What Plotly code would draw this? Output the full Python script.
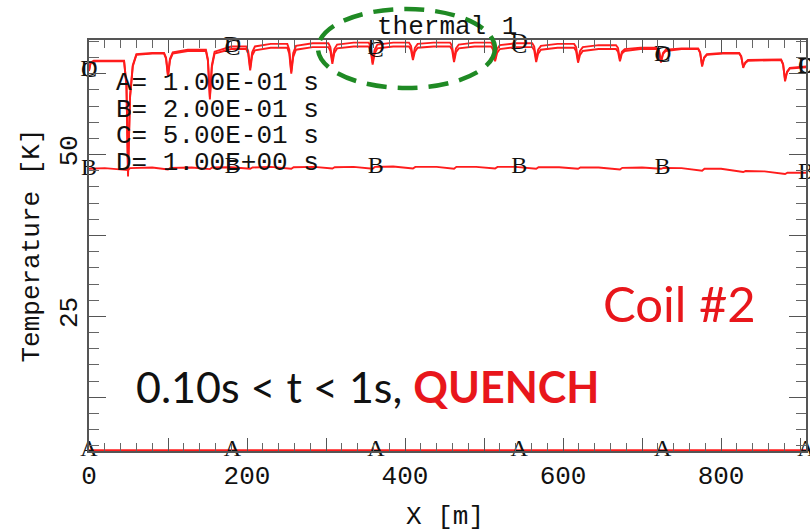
import numpy as np
import plotly.graph_objects as go

# ---------------- data ----------------
X_MAX = 907.5

# curve A: t = 0.1 s (flat, at initial temperature)
a_x = [0.0, 907.5]
a_T = [4.3, 4.3]

# curve B: t = 0.2 s
b_x = [0, 20, 49.4, 52, 80, 100, 103, 130, 153, 156,
       180, 204, 207, 230, 256, 259, 285, 308, 311, 335,
       359, 362, 385, 410, 413, 440, 462, 465, 490, 514,
       517, 540, 566, 569, 595, 619, 622, 645, 672, 675,
       700, 724, 727, 750, 776, 779, 800, 828, 831, 855,
       881, 884, 907.5]
b_T = [47.8, 47.9, 47.6, 47.9, 48.0, 47.7, 47.95, 48.0, 47.75, 48.0,
       48.05, 47.8, 48.0, 48.1, 47.8, 48.05, 48.1, 47.85, 48.05, 48.1,
       47.8, 48.1, 48.15, 47.85, 48.1, 48.1, 47.8, 48.1, 48.1, 47.85,
       48.1, 48.1, 47.8, 48.05, 48.05, 47.8, 48.0, 48.0, 47.7, 47.95,
       48.0, 47.8, 47.95, 47.9, 47.5, 47.8, 47.8, 47.3, 47.45, 47.4,
       47.0, 47.2, 47.2]

# curves C (t = 0.5 s) and D (t = 1.0 s) share the x samples
cd_x = [0, 2, 6, 30,
        44.4, 47.4, 49.4, 51.9, 55.4, 60, 80,
        95, 97.5, 100, 102.5, 106, 125,
        148, 150.5, 153, 155.5, 159, 180,
        199, 201.5, 204, 206.5, 210, 230,
        251, 253.5, 256, 258.5, 262, 283,
        303, 305.5, 308, 310.5, 314, 335,
        354, 356.5, 359, 361.5, 365, 385,
        405, 407.5, 410, 412.5, 416, 436,
        457, 459.5, 462, 464.5, 468, 488,
        509, 511.5, 514, 516.5, 520, 540,
        561, 563.5, 566, 568.5, 572, 593,
        614, 616.5, 619, 621.5, 625, 645,
        667, 669.5, 672, 674.5, 678, 698,
        719, 721.5, 724, 726.5, 730, 750,
        771, 773.5, 776, 778.5, 782, 802,
        823, 825.5, 828, 830.5, 834, 855,
        876, 878.5, 881, 883.5, 887, 907.5]
d_T = [63.0, 64.2, 64.5, 64.5,
       64.5, 60.9, 46.6, 59.0, 63.8, 65.5, 65.7,
       65.7, 65.0, 62.3, 64.8, 65.8, 66.2,
       66.2, 64.7, 58.5, 63.8, 65.9, 66.7,
       66.7, 66.0, 63.4, 65.8, 66.7, 67.1,
       67.1, 66.2, 62.8, 65.7, 66.8, 67.2,
       67.2, 66.6, 64.4, 66.3, 67.0, 67.3,
       67.3, 66.7, 64.2, 66.2, 67.0, 67.3,
       67.3, 66.8, 65.0, 66.5, 67.1, 67.3,
       67.3, 66.8, 64.7, 66.4, 67.0, 67.3,
       67.3, 66.8, 64.7, 66.3, 66.9, 67.2,
       67.2, 66.7, 64.7, 66.2, 66.8, 67.1,
       67.1, 66.6, 64.5, 66.0, 66.6, 66.9,
       66.9, 66.5, 64.7, 65.9, 66.3, 66.5,
       66.5, 66.1, 64.4, 65.7, 66.2, 66.4,
       66.4, 65.8, 63.6, 65.0, 65.5, 65.7,
       65.7, 65.2, 63.4, 64.2, 64.6, 64.7,
       64.7, 64.0, 61.3, 62.8, 63.4, 63.6]
c_T = [62.9, 64.1, 64.4, 64.4,
       64.4, 60.6, 47.0, 58.7, 63.6, 65.4, 65.6,
       65.6, 64.8, 62.0, 64.6, 65.6, 66.0,
       66.0, 64.5, 58.9, 63.5, 65.6, 66.3,
       66.3, 65.6, 63.0, 65.3, 66.1, 66.5,
       66.5, 65.6, 62.5, 65.1, 66.2, 66.6,
       66.6, 66.0, 64.0, 65.7, 66.4, 66.7,
       66.7, 66.1, 63.9, 65.6, 66.4, 66.7,
       66.7, 66.2, 64.6, 65.9, 66.5, 66.7,
       66.7, 66.2, 64.3, 65.8, 66.4, 66.7,
       66.7, 66.2, 64.4, 65.7, 66.3, 66.6,
       66.6, 66.1, 64.3, 65.6, 66.2, 66.5,
       66.5, 66.0, 64.2, 65.4, 66.0, 66.3,
       66.3, 65.9, 64.4, 65.6, 66.0, 66.3,
       66.3, 65.9, 64.2, 65.5, 66.0, 66.3,
       66.3, 65.7, 63.8, 64.9, 65.4, 65.6,
       65.6, 65.1, 63.6, 64.1, 64.5, 64.6,
       64.6, 63.9, 61.6, 62.7, 63.3, 63.5]

curve_letters = ["A", "B", "C", "D"]
legend_lines = ["A= 1.00E-01 s", "B= 2.00E-01 s", "C= 5.00E-01 s", "D= 1.00E+00 s"]
x_tick_vals = [0, 100, 200, 300, 400, 500, 600, 700, 800, 900]
x_tick_text = ["0", "", "200", "", "400", "", "600", "", "800", ""]
y_tick_vals = [12.5, 25, 37.5, 50, 62.5]
y_tick_text = ["", "25", "", "50", ""]
N_MARKERS = 6

# ---------------- figure ----------------
RED = "rgb(255,28,28)"
MONO = "Liberation Mono"
SERIF = "Liberation Serif"

fig = go.Figure()
series = [(a_x, a_T), (b_x, b_T), (cd_x, c_T), (cd_x, d_T)]
for (xs, ts), letter in zip(series, curve_letters):
    fig.add_trace(go.Scatter(x=xs, y=ts, mode="lines",
                             line=dict(color=RED, width=2.4 if letter == "A" else 1.9),
                             hoverinfo="skip"))

mx = np.linspace(0, X_MAX, N_MARKERS)
for (xs, ts), letter in zip(series, curve_letters):
    my = np.interp(mx, xs, ts)
    fig.add_trace(go.Scatter(x=mx, y=my, mode="text", text=[letter] * N_MARKERS,
                             textposition="middle center", cliponaxis=False,
                             textfont=dict(family=SERIF, size=24, color="#111"),
                             hoverinfo="skip"))

axis_common = dict(showline=True, linecolor="#555", linewidth=1.5, mirror="ticks",
                   ticks="inside", tickcolor="#555", tickwidth=1.3,
                   showgrid=False, zeroline=False, automargin=False,
                   tickfont=dict(family=MONO, size=26, color="#111"))

fig.update_xaxes(range=[0, X_MAX], tickvals=x_tick_vals, ticktext=x_tick_text,
                 ticklen=13,
                 minor=dict(ticks="inside", dtick=20, tick0=0, ticklen=8,
                            tickcolor="#666", tickwidth=1),
                 **axis_common)
fig.update_yaxes(range=[4.2, 67.7], tickvals=y_tick_vals, ticktext=y_tick_text,
                 ticklen=17, tickangle=-90,
                 minor=dict(ticks="inside", dtick=2.5, tick0=0, ticklen=10,
                            tickcolor="#666", tickwidth=1),
                 title=dict(text="Temperature [K]", font=dict(family=MONO, size=26, color="#111"),
                            standoff=8),
                 **axis_common)

PL, PR, PT, PB = 89, 806, 40, 451
def px_x(p):
    return (p - PL) / (PR - PL)
def px_y(p):
    return (PB - p) / (PB - PT)

annotations = [
    dict(text="thermal 1", x=px_x(447), y=px_y(27), xref="paper", yref="paper",
         showarrow=False, xanchor="center", yanchor="middle",
         font=dict(family=MONO, size=26, color="#111")),
    dict(text="X [m]", x=px_x(445), y=px_y(517), xref="paper", yref="paper",
         showarrow=False, xanchor="center", yanchor="middle",
         font=dict(family=MONO, size=26, color="#111")),
]
for i, line in enumerate(legend_lines):
    annotations.append(dict(text=line, x=px_x(114), y=px_y(83 + 26.7 * i),
                            xref="paper", yref="paper", showarrow=False,
                            xanchor="left", yanchor="middle",
                            font=dict(family=MONO, size=26, color="#111")))
annotations.append(dict(text="Coil #2", x=px_x(679), y=px_y(303), xref="paper", yref="paper",
                        showarrow=False, xanchor="center", yanchor="middle",
                        font=dict(family="Lato", size=49, color="#e8161b")))
annotations.append(dict(text="0.10s &lt; t &lt; 1s, <b><span style='color:#e8161b'>QUENCH</span></b>",
                        x=px_x(367), y=px_y(386), xref="paper", yref="paper",
                        showarrow=False, xanchor="center", yanchor="middle",
                        font=dict(family="Lato", size=43, color="#111")))

fig.update_layout(
    width=810, height=529,
    margin=dict(l=PL, r=810 - PR, t=PT, b=529 - PB),
    plot_bgcolor="white", paper_bgcolor="white",
    showlegend=False,
    annotations=annotations,
    shapes=[dict(type="circle", xref="paper", yref="paper",
                 x0=px_x(318), x1=px_x(495), y0=px_y(88), y1=px_y(9),
                 line=dict(color="#1f8a24", width=4.5, dash="20px,11px"))],
)

fig.write_html("out.html")
